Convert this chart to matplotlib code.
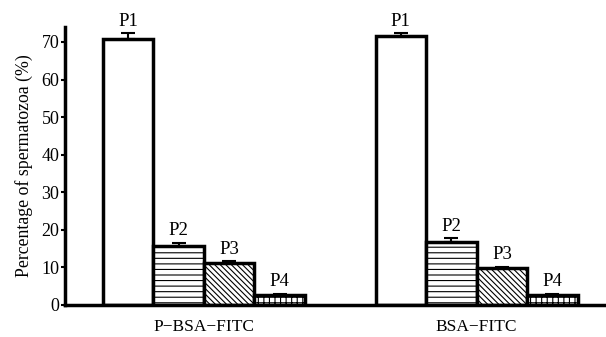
import numpy as np
import matplotlib
matplotlib.use("Agg")
import matplotlib.pyplot as plt

# values
groups = ["P\u2212BSA\u2212FITC", "BSA\u2212FITC"]
labels = ["P1", "P2", "P3", "P4"]
p_bsa = [70.8, 15.6, 11.2, 2.6]
p_bsa_err = [1.5, 1.0, 0.4, 0.3]
bsa = [71.5, 16.7, 9.9, 2.6]
bsa_err = [0.8, 1.0, 0.3, 0.3]
hatches = ["", "---", "\\" * 6, "+++"]

plt.rcParams['font.family'] = ['Liberation Serif', 'DejaVu Serif']
plt.rcParams['hatch.linewidth'] = 0.8

fig = plt.figure(figsize=(6.06, 3.37), dpi=100)
ax = fig.add_axes([0.107, 0.095, 0.893, 0.825])

offsets = [0.0, 5.4]
for off, vals, errs in zip(offsets, [p_bsa, bsa], [p_bsa_err, bsa_err]):
    xs = off + np.arange(4)
    for x, v, e, h, lab in zip(xs, vals, errs, hatches, labels):
        ax.bar(x, v, width=1.0, color="white", edgecolor="black",
               linewidth=2.5, hatch=h, zorder=2)
        ax.errorbar(x, v, yerr=[[0], [e]], fmt="none", ecolor="black",
                    elinewidth=1.5, capsize=5, capthick=1.5, zorder=3)
        ax.text(x, v + e + 1.0, lab, ha="center", va="bottom",
                fontsize=13.5, clip_on=False)

ax.set_xlim(-1.25, 9.46)
ax.set_ylim(0, 74)
ax.set_yticks(np.arange(0, 71, 10))
ax.tick_params(axis="y", labelsize=13, length=3, width=1.5, pad=1)
ax.set_xticks([o + 1.5 for o in offsets])
ax.set_xticklabels(groups, fontsize=12.5)
ax.tick_params(axis="x", length=0, pad=10)
ax.set_ylabel("Percentage of spermatozoa (%)", fontsize=12.8, labelpad=6)

for s in ["top", "right"]:
    ax.spines[s].set_visible(False)
for s in ["left", "bottom"]:
    ax.spines[s].set_linewidth(2.5)

fig.savefig("out.png", dpi=100)
